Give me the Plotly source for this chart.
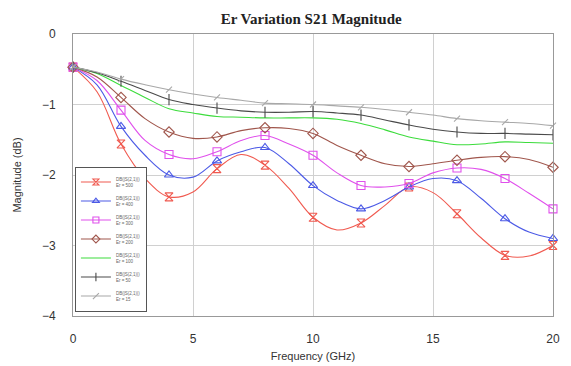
import plotly.graph_objects as go

# Frequency sweep (GHz) and S21 magnitude (dB) for each relative permittivity
freq = list(range(0, 21))

er500 = [-0.47, -0.82, -1.56, -2.05, -2.31, -2.24, -1.91, -1.71, -1.86, -2.19, -2.60,
         -2.78, -2.68, -2.43, -2.17, -2.25, -2.55, -2.89, -3.14, -3.15, -3.00]
er400 = [-0.47, -0.72, -1.31, -1.72, -2.00, -2.03, -1.80, -1.67, -1.61, -1.84, -2.15,
         -2.36, -2.48, -2.36, -2.17, -2.05, -2.08, -2.33, -2.62, -2.81, -2.90]
er300 = [-0.47, -0.66, -1.08, -1.51, -1.71, -1.77, -1.67, -1.51, -1.44, -1.56, -1.72,
         -1.97, -2.15, -2.17, -2.12, -1.97, -1.90, -1.92, -2.05, -2.26, -2.48]
er200 = [-0.47, -0.61, -0.90, -1.20, -1.39, -1.48, -1.46, -1.37, -1.33, -1.34, -1.41,
         -1.58, -1.72, -1.84, -1.88, -1.84, -1.79, -1.75, -1.74, -1.78, -1.89]
er100 = [-0.47, -0.56, -0.73, -0.90, -1.06, -1.12, -1.17, -1.18, -1.19, -1.19, -1.19,
         -1.21, -1.27, -1.36, -1.46, -1.52, -1.57, -1.56, -1.53, -1.54, -1.55]
er50 = [-0.47, -0.55, -0.67, -0.80, -0.93, -1.00, -1.05, -1.09, -1.11, -1.11, -1.10,
        -1.12, -1.15, -1.22, -1.29, -1.35, -1.39, -1.41, -1.41, -1.42, -1.43]
er15 = [-0.47, -0.54, -0.64, -0.72, -0.79, -0.85, -0.90, -0.94, -0.98, -0.99, -1.00,
        -1.02, -1.04, -1.07, -1.11, -1.15, -1.20, -1.23, -1.25, -1.27, -1.30]

er_labels = ["500", "400", "300", "200", "100", "50", "15"]
series = [er500, er400, er300, er200, er100, er50, er15]
colors = ["#f05a50", "#4c5ae6", "#e050ec", "#a0564c", "#3cdc3c", "#4a4a4a", "#a8a8a8"]
symbols = ["hourglass-open", "triangle-up-open", "square-open", "diamond-open",
           None, "line-ns-open", "line-ne-open"]
sizes = [8, 8, 8, 8, 0, 8, 6]

fig = go.Figure()

for lbl, vals, col, sym, sz in zip(er_labels, series, colors, symbols, sizes):
    grp = "er" + lbl
    # smooth response curve
    fig.add_trace(go.Scatter(
        x=freq, y=vals, mode="lines", line=dict(color=col, width=1.1, shape="spline"),
        legendgroup=grp, showlegend=False, hoverinfo="skip", cliponaxis=False))
    # markers every 2 GHz
    if sym is not None:
        fig.add_trace(go.Scatter(
            x=freq[::2], y=vals[::2], mode="markers",
            marker=dict(symbol=sym, size=sz, color=col, line=dict(color=col, width=1.1)),
            legendgroup=grp, showlegend=False, cliponaxis=False))
    # legend entry
    mode = "lines+markers" if sym is not None else "lines"
    fig.add_trace(go.Scatter(
        x=[None], y=[None], mode=mode, name=f"DB(|S(2,1)|)<br>Er = {lbl}",
        line=dict(color=col, width=1.1),
        marker=dict(symbol=sym or "circle", size=6, color=col, line=dict(color=col, width=1.1)),
        legendgroup=grp, showlegend=True))

fig.update_layout(
    width=571, height=366,
    margin=dict(l=73, r=18, t=34, b=50),
    paper_bgcolor="white", plot_bgcolor="white",
    title=dict(text="<b>Er Variation S21 Magnitude</b>", x=0.545, xanchor="center",
               y=0.95, yanchor="middle",
               font=dict(family="Liberation Serif, Times New Roman, serif", size=15, color="#222")),
    font=dict(family="Liberation Sans, Arial, sans-serif", color="#333"),
    legend=dict(x=0.004, y=0.53, xanchor="left", yanchor="top",
                bgcolor="white", bordercolor="#555", borderwidth=1,
                font=dict(size=4.5, color="#666"), itemwidth=30,
                tracegroupgap=2, traceorder="normal"),
)

fig.update_xaxes(
    range=[0, 20], dtick=5, tick0=0, showgrid=True, gridcolor="#d0d0d0", gridwidth=1,
    zeroline=False, showline=True, linecolor="#999", linewidth=1, mirror=True,
    automargin=False, ticks="", ticklabelstandoff=12, tickfont=dict(size=12, color="#333"),
    title=dict(text="Frequency (GHz)", font=dict(size=11, color="#333"), standoff=6))
fig.update_yaxes(
    range=[-4, 0], dtick=1, tick0=0, showgrid=True, gridcolor="#d0d0d0", gridwidth=1,
    zeroline=False, showline=True, linecolor="#999", linewidth=1, mirror=True,
    automargin=False, ticks="", ticklabelstandoff=14, tickfont=dict(size=12, color="#333"),
    title=dict(text="Magnitude (dB)", font=dict(size=11, color="#333"), standoff=18))

fig.write_html("out.html")
